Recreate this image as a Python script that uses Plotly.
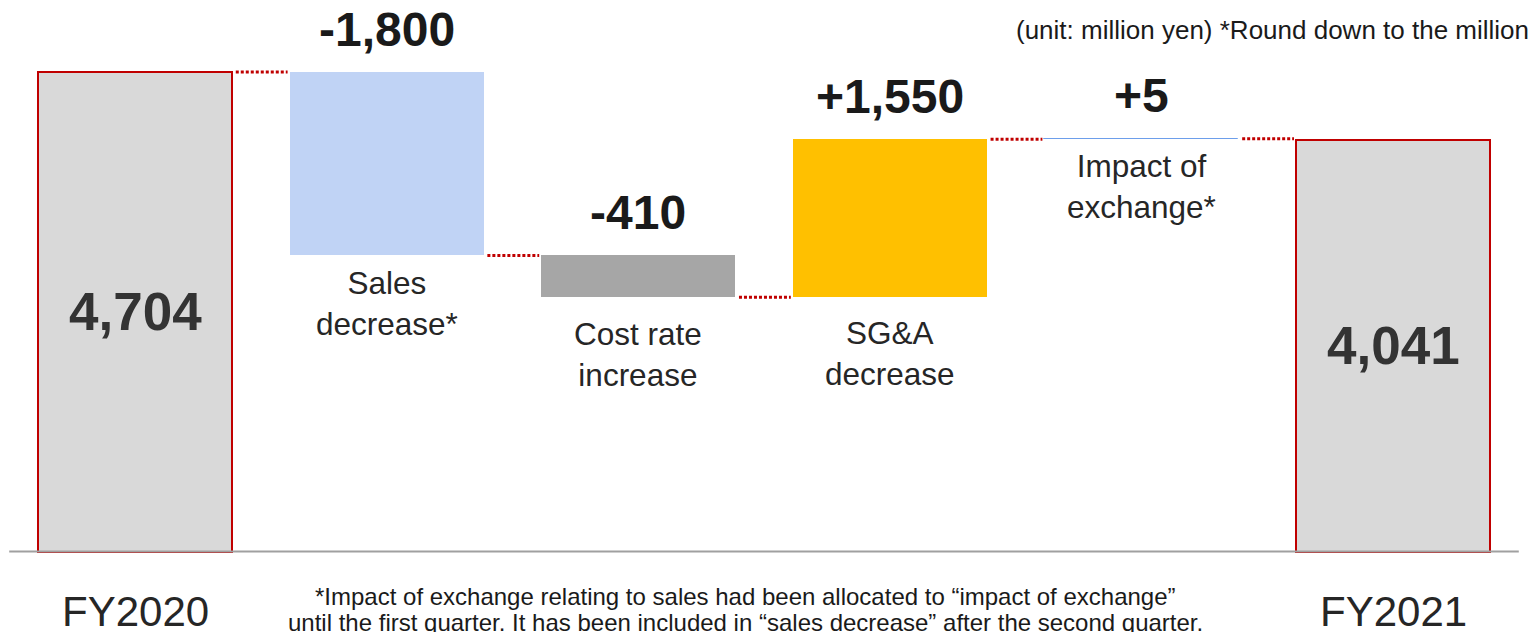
import plotly.graph_objects as go

# ---- data ----
categories = ["FY2020", "Sales<br>decrease*", "Cost rate<br>increase", "SG&A<br>decrease", "Impact of<br>exchange*", "FY2021"]
start_total = 4704
deltas = [-1800, -410, 1550, 5]
end_total = 4041
delta_labels = ["-1,800", "-410", "+1,550", "+5"]
total_labels = ["4,704", "4,041"]
unit_note = "(unit: million yen) *Round down to the million"
foot_lines = ["*Impact of exchange relating to sales had been allocated to \u201cimpact of exchange\u201d",
              "until the first quarter. It has been included in \u201csales decrease\u201d after the second quarter."]

# ---- derived ----
levels = [start_total]
for d in deltas:
    levels.append(levels[-1] + d)
bases = [0]
heights = [start_total]
for i, d in enumerate(deltas):
    bases.append(min(levels[i], levels[i + 1]))
    heights.append(abs(d))
bases.append(0)
heights.append(end_total)
tops = [b + h for b, h in zip(bases, heights)]
xs = list(range(len(categories)))

W = 0.771
fill_colors = ["#d9d9d9", "#c0d3f5", "#a6a6a6", "#ffc000", "#6d9eeb", "#d9d9d9"]
line_colors = ["#c00000", "rgba(0,0,0,0)", "rgba(0,0,0,0)", "rgba(0,0,0,0)", "#6d9eeb", "#c00000"]
line_widths = [2, 0, 0, 0, 1, 2]

FONT = "Liberation Sans, Arial, sans-serif"
fig = go.Figure()
fig.add_trace(go.Bar(
    x=xs, y=heights, base=bases, width=W,
    marker=dict(color=fill_colors, line=dict(color=line_colors, width=line_widths)),
    hoverinfo="skip", showlegend=False,
))

shapes = []
for i in range(len(categories) - 1):
    lvl = levels[i]
    shapes.append(dict(type="line", xref="x", yref="y",
                       x0=xs[i] + W / 2 + 0.015, x1=xs[i + 1] - W / 2 - 0.008,
                       y0=lvl, y1=lvl,
                       line=dict(color="#c00000", width=3, dash="3px,2px")))
shapes.append(dict(type="line", xref="x", yref="y", x0=-0.5, x1=len(categories) - 0.5,
                   y0=0, y1=0, line=dict(color="#a0a0a0", width=2), layer="above"))

annotations = []
for i, lab in enumerate(delta_labels):
    j = i + 1
    annotations.append(dict(x=xs[j], y=tops[j], xref="x", yref="y", text="<b>%s</b>" % lab,
                            showarrow=False, yanchor="middle", yshift=43,
                            font=dict(family=FONT, size=48, color="#1a1a1a")))
label_offsets = [-48, -57, -56, -47]
for i in range(len(deltas)):
    j = i + 1
    annotations.append(dict(x=xs[j], y=bases[j], xref="x", yref="y", text=categories[j],
                            showarrow=False, yanchor="middle", yshift=label_offsets[i],
                            font=dict(family=FONT, size=31.5, color="#262626")))
for j, lab in zip([0, len(categories) - 1], total_labels):
    annotations.append(dict(x=xs[j], y=tops[j] / 2, xref="x", yref="y", text="<b>%s</b>" % lab,
                            showarrow=False, yanchor="middle",
                            font=dict(family=FONT, size=53, color="#333333")))
    annotations.append(dict(x=xs[j], y=1 - 611 / 632, xref="x", yref="paper", text=categories[j],
                            showarrow=False, yanchor="middle",
                            font=dict(family=FONT, size=42, color="#262626")))
annotations.append(dict(x=1531 / 1538, y=1 - 30 / 632, xref="paper", yref="paper", text=unit_note,
                        showarrow=False, xanchor="right", yanchor="middle",
                        font=dict(family=FONT, size=26, color="#1a1a1a")))
for k, (line, yy) in enumerate(zip(foot_lines, [596, 622])):
    annotations.append(dict(x=745 / 1538, y=1 - yy / 632, xref="paper", yref="paper", text=line,
                            showarrow=False, xanchor="center", yanchor="middle",
                            font=dict(family="Liberation Sans Narrow, Arial Narrow, " + FONT, size=24, color="#1a1a1a")))

px_per_unit = (551.5 - 72) / start_total
y_top = 551.5 / px_per_unit
y_bot = -(632 - 551.5) / px_per_unit
x_lo = -135 / 251.6
x_hi = (1538 - 135) / 251.6

fig.update_layout(
    width=1538, height=632,
    margin=dict(l=0, r=0, t=0, b=0),
    paper_bgcolor="white", plot_bgcolor="white",
    xaxis=dict(range=[x_lo, x_hi], visible=False, fixedrange=True),
    yaxis=dict(range=[y_bot, y_top], visible=False, fixedrange=True),
    shapes=shapes, annotations=annotations,
    bargap=0,
)
fig.write_html("out.html", config={"displayModeBar": False},
               post_script="document.body.style.margin='0';document.body.style.overflow='hidden';")
